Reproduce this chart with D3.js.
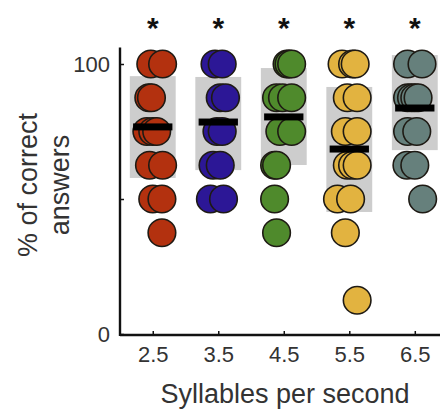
<!DOCTYPE html>
<html>
<head>
<meta charset="utf-8">
<script src="https://cdn.jsdelivr.net/npm/d3@7"></script>
<style>
body { margin: 0; background: #fff; }
</style>
</head>
<body>
<script>
var speeds = [2.5, 3.5, 4.5, 5.5, 6.5];
var colors = ["#b3310f", "#2c1796", "#4f8a2c", "#e2b340", "#66807c"];

// % correct per listener, with horizontal jitter (in syllables/s)
var scores = [
  [100, 100, 87.5, 87.5, 75, 75, 75, 62.5, 62.5, 50, 50, 37.5],
  [100, 100, 87.5, 87.5, 75, 75, 62.5, 62.5, 50, 50],
  [100, 100, 100, 87.5, 87.5, 87.5, 75, 75, 62.5, 62.5, 50, 37.5],
  [100, 100, 100, 87.5, 87.5, 75, 75, 62.5, 62.5, 62.5, 50, 50, 37.5, 12.5],
  [100, 100, 87.5, 87.5, 87.5, 87.5, 75, 75, 62.5, 62.5, 50]
];
var jitter = [
  [-0.03, 0.15, -0.06, -0.02, -0.09, 0, 0.06, -0.05, 0.15, 0, 0.14, 0.14],
  [-0.05, 0.06, 0.03, 0.11, -0.02, 0.06, -0.08, 0.03, -0.12, 0.08],
  [0.05, 0.08, 0.12, -0.11, -0.02, 0.12, -0.06, 0.12, -0.14, -0.11, -0.14, -0.11],
  [-0.11, 0.05, 0.09, -0.03, 0.12, -0.06, 0.12, -0.03, 0.05, 0.12, -0.18, 0.02, -0.06, 0.12],
  [-0.11, 0.11, -0.11, -0.05, 0, 0.05, -0.11, 0.03, -0.12, 0, 0.12]
];
var means = [76.7, 78.5, 80.4, 68.5, 83.7];
var boxLo = [57.8, 60.7, 62.6, 45.2, 68.1];
var boxHi = [95.5, 95.2, 98.5, 91.5, 103.3];
var stars = ["*", "*", "*", "*", "*"];
var yTicks = [0, 50, 100];
var yTickLabels = ["0", "", "100"];

var w = 440;
var h = 409;

var x = d3.scaleLinear().domain([2, 6.9]).range([120, 441]);
var y = d3.scaleLinear().domain([0, 106]).range([334, 47.8]);

var svg = d3.select("body")
.append("svg")
.attr("width", w)
.attr("height", h);

var points = [];
for (var i = 0; i < scores.length; i++) {
  for (var j = 0; j < scores[i].length; j++) {
    points.push({g: i, s: speeds[i] + jitter[i][j], v: scores[i][j]});
  }
}

// sd boxes
svg.selectAll("rect.box")
.data(speeds)
.enter()
.append("rect")
.attr("class", "box")
.attr("x", function(d) { return x(d - 0.35); })
.attr("width", x(0.7) - x(0))
.attr("y", function(d, i) { return y(boxHi[i]); })
.attr("height", function(d, i) { return y(boxLo[i]) - y(boxHi[i]); })
.attr("fill", "#cdcdcd");

svg.selectAll("circle")
.data(points)
.enter()
.append("circle")
.attr("cx", function(d) { return x(d.s); })
.attr("cy", function(d) { return y(d.v); })
.attr("r", 13.8)
.attr("fill", function(d) { return colors[d.g]; })
.attr("stroke", "#1e1a14")
.attr("stroke-width", 1.6);

// mean bars
svg.selectAll("rect.mean")
.data(speeds)
.enter()
.append("rect")
.attr("class", "mean")
.attr("x", function(d) { return x(d - 0.3); })
.attr("width", x(0.6) - x(0))
.attr("y", function(d, i) { return y(means[i]) - 3.5; })
.attr("height", 7)
.attr("fill", "#000");

// axes
var xAxis = d3.axisBottom(x).tickValues(speeds).tickSize(-4).tickPadding(10)
.tickFormat(d3.format(".1f"));
var yAxis = d3.axisLeft(y).tickValues(yTicks).tickSize(-4).tickPadding(10)
.tickFormat(function(d, i) { return yTickLabels[i]; });

var gx = svg.append("g")
.attr("transform", "translate(0," + 335 + ")")
.call(xAxis);
var gy = svg.append("g")
.attr("transform", "translate(120,0)")
.call(yAxis);

gx.select(".domain").attr("d", "M120,0H441").attr("stroke", "#111").attr("stroke-width", 2.4);
gy.select(".domain").attr("d", "M0,47.5V336").attr("stroke", "#111").attr("stroke-width", 2.4);

svg.selectAll(".tick line").attr("stroke", "#111").attr("stroke-width", 1.5);
svg.selectAll(".tick text")
.attr("font-family", "Liberation Sans, Arial, sans-serif")
.attr("font-size", "22px")
.attr("fill", "#333");
gx.selectAll(".tick text").attr("dy", "0.75em");
gy.selectAll(".tick text").attr("dy", "0.35em");

svg.selectAll("text.star")
.data(stars)
.enter()
.append("text")
.attr("class", "star")
.text(function(d) { return d; })
.attr("x", function(d, i) { return x(speeds[i]); })
.attr("y", 38)
.attr("text-anchor", "middle")
.attr("font-family", "Liberation Sans, Arial, sans-serif")
.attr("font-weight", "bold")
.attr("font-size", "30px")
.attr("fill", "#111");

svg.append("text")
.text("Syllables per second")
.attr("x", 285)
.attr("y", 403)
.attr("text-anchor", "middle")
.attr("font-family", "Liberation Sans, Arial, sans-serif")
.attr("font-size", "27px")
.attr("fill", "#333");

svg.append("text")
.text("% of correct")
.attr("transform", "translate(37,185) rotate(-90)")
.attr("text-anchor", "middle")
.attr("font-family", "Liberation Sans, Arial, sans-serif")
.attr("font-size", "27px")
.attr("fill", "#333");

svg.append("text")
.text("answers")
.attr("transform", "translate(69,185) rotate(-90)")
.attr("text-anchor", "middle")
.attr("font-family", "Liberation Sans, Arial, sans-serif")
.attr("font-size", "27px")
.attr("fill", "#333");
</script>
</body>
</html>
